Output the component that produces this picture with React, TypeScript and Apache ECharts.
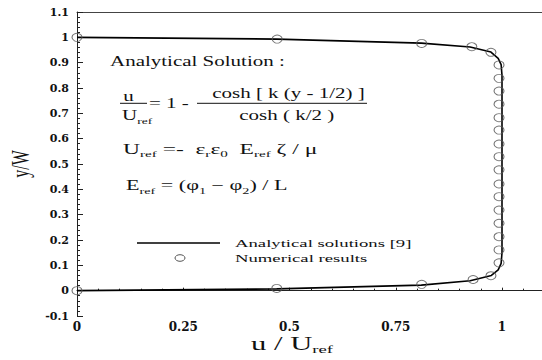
import React, { useEffect, useRef } from 'react';
import * as echarts from 'echarts';

// Analytical solution (line)
const analyticalU = [0, 0.47, 0.81, 0.925, 0.975, 0.991, 0.998, 1.0, 1.0, 0.998, 0.991, 0.974, 0.925, 0.81, 0.47, 0];
const analyticalY = [0, 0.007, 0.022, 0.039, 0.06, 0.082, 0.108, 0.15, 0.85, 0.892, 0.917, 0.942, 0.962, 0.977, 0.993, 1];

// Numerical results (circles)
const numericalU = [0, 0.47, 0.811, 0.932, 0.974,
  0.993, 0.993, 0.993, 0.993, 0.993, 0.993, 0.993, 0.993,
  0.993, 0.993, 0.993, 0.993, 0.993, 0.993, 0.993, 0.993,
  0.974, 0.929, 0.811, 0.471, 0];
const numericalY = [0, 0.009, 0.025, 0.044, 0.059,
  0.110, 0.161, 0.213, 0.266, 0.318, 0.371, 0.421, 0.477,
  0.529, 0.579, 0.634, 0.683, 0.736, 0.788, 0.838, 0.891,
  0.941, 0.963, 0.976, 0.993, 1];

const xTickLabels = ['0', '0.25', '0.5', '0.75', '1'];
const yTickLabels = ['-0.1', '0', '0.1', '0.2', '0.3', '0.4', '0.5', '0.6', '0.7', '0.8', '0.9', '1', '1.1'];

const SERIF = '"Liberation Serif", "Times New Roman", serif';
const LABEL_FONT = '"DejaVu Serif", serif';
const INK = '#111';

const rich = {
  b: { fontSize: 14, fontFamily: SERIF, fill: INK, verticalAlign: 'top' },
  s: { fontSize: 9, fontFamily: SERIF, fill: INK, verticalAlign: 'top', padding: [8, 0, 0, 0] },
};

function matchLabel(list: string[], value: number) {
  const hit = list.find((l) => Math.abs(parseFloat(l) - value) < 1e-6);
  return hit === undefined ? '' : hit;
}

export default function App() {
  const ref = useRef<HTMLDivElement>(null);
  useEffect(() => {
    if (!ref.current) return;
    const chart = echarts.init(ref.current, null, { renderer: 'svg' });
    const text = (x: number, y: number, t: string, opts: any = {}) => ({
      type: 'text',
      x,
      y,
      scaleX: opts.scaleX ?? 1.5,
      scaleY: opts.scaleY ?? 1,
      rotation: opts.rotation ?? 0,
      style: {
        text: t,
        fontSize: opts.fontSize ?? 14,
        fontFamily: SERIF,
        fill: INK,
        align: opts.align ?? 'left',
        verticalAlign: opts.verticalAlign ?? 'middle',
        rich: opts.rich,
      },
    });
    chart.setOption({
      animation: false,
      backgroundColor: '#fff',
      grid: { left: 77, top: 12, width: 531.25, height: 304, containLabel: false, outerBoundsMode: 'none' },
      xAxis: [
        {
          type: 'value',
          min: 0,
          max: 1.25,
          interval: 0.25,
          axisLine: { show: true, lineStyle: { color: '#222', width: 1 } },
          axisTick: { show: true, inside: true, length: 3, lineStyle: { color: '#222' } },
          minorTick: { show: true, splitNumber: 5, length: 2, lineStyle: { color: '#222' } },
          splitLine: { show: false },
          axisLabel: {
            margin: 5,
            fontFamily: LABEL_FONT,
            fontWeight: 'bold',
            fontSize: 12,
            color: INK,
            formatter: (v: number) => matchLabel(xTickLabels, v),
          },
        },
        {
          type: 'value',
          position: 'top',
          min: 0,
          max: 1.25,
          axisLine: { show: true, onZero: false, lineStyle: { color: '#444', width: 1 } },
          axisTick: { show: false },
          axisLabel: { show: false },
          splitLine: { show: false },
        },
      ],
      yAxis: {
        type: 'value',
        min: -0.1,
        max: 1.1,
        interval: 0.1,
        axisLine: { show: true, onZero: false, lineStyle: { color: '#222', width: 1 } },
        axisTick: { show: true, inside: true, length: 6, lineStyle: { color: '#222' } },
        minorTick: { show: true, splitNumber: 5, length: 3, lineStyle: { color: '#222' } },
        splitLine: { show: false },
        axisLabel: {
          margin: 8,
          fontFamily: LABEL_FONT,
          fontWeight: 'bold',
          fontSize: 11,
          color: INK,
          formatter: (v: number) => matchLabel(yTickLabels, v),
        },
      },
      series: [
        {
          name: 'Analytical solutions [9]',
          type: 'line',
          data: analyticalU.map((u, i) => [u, analyticalY[i]]),
          symbol: 'none',
          lineStyle: { color: '#000', width: 1.6 },
          clip: false,
          z: 2,
        },
        {
          name: 'Numerical results',
          type: 'scatter',
          data: numericalU.map((u, i) => [u, numericalY[i]]),
          symbol: 'circle',
          symbolSize: [10, 8],
          itemStyle: { color: 'transparent', borderColor: '#555', borderWidth: 1 },
          clip: false,
          z: 3,
        },
      ],
      graphic: [
        text(110, 61, 'Analytical Solution :'),
        text(128.5, 96, 'u', { align: 'center' }),
        { type: 'line', shape: { x1: 120, y1: 103.3, x2: 147, y2: 103.3 }, style: { stroke: INK, lineWidth: 1 } },
        text(122, 108, '{b|U}{s|ref}', { verticalAlign: 'top', rich }),
        text(149, 103, '= 1 -'),
        text(288.5, 93.5, 'cosh [ k (y - 1/2) ]', { align: 'center' }),
        { type: 'line', shape: { x1: 197, y1: 103.3, x2: 367, y2: 103.3 }, style: { stroke: INK, lineWidth: 1 } },
        text(286.7, 115, 'cosh ( k/2 )', { align: 'center' }),
        text(123, 142, '{b|U}{s|ref}{b| =-  ε}{s|r}{b|ε}{s|0}{b|  E}{s|ref}{b| ζ / μ}', { verticalAlign: 'top', rich, scaleX: 1.68 }),
        text(126, 178, '{b|E}{s|ref}{b| = (φ}{s|1}{b| − φ}{s|2}{b|) / L}', { verticalAlign: 'top', rich, scaleX: 1.58 }),
        // legend
        { type: 'line', shape: { x1: 137, y1: 243, x2: 220, y2: 243 }, style: { stroke: '#000', lineWidth: 1.6 } },
        { type: 'ellipse', shape: { cx: 180, cy: 258, rx: 5, ry: 3.3 }, style: { fill: 'none', stroke: '#555', lineWidth: 1 } },
        text(235, 243, 'Analytical solutions [9]', { fontSize: 11, scaleX: 1.7 }),
        text(235, 258, 'Numerical results', { fontSize: 11, scaleX: 1.7 }),
        // axis titles
        text(21, 164, 'y/W', { align: 'center', fontSize: 16, scaleX: 1, scaleY: 1.55, rotation: Math.PI / 2 }),
        text(292, 345, '{b|u / U}{s|ref}', {
          align: 'center',
          scaleX: 1.7,
          rich: {
            b: { fontSize: 18, fontFamily: SERIF, fill: INK, verticalAlign: 'top' },
            s: { fontSize: 11, fontFamily: SERIF, fill: INK, verticalAlign: 'top', padding: [9, 0, 0, 0] },
          },
        }),
      ],
    });
    return () => chart.dispose();
  }, []);
  return (
    <div
      ref={ref}
      style={{ position: 'fixed', left: 0, top: 0, width: 542, height: 360, background: '#fff' }}
    />
  );
}
